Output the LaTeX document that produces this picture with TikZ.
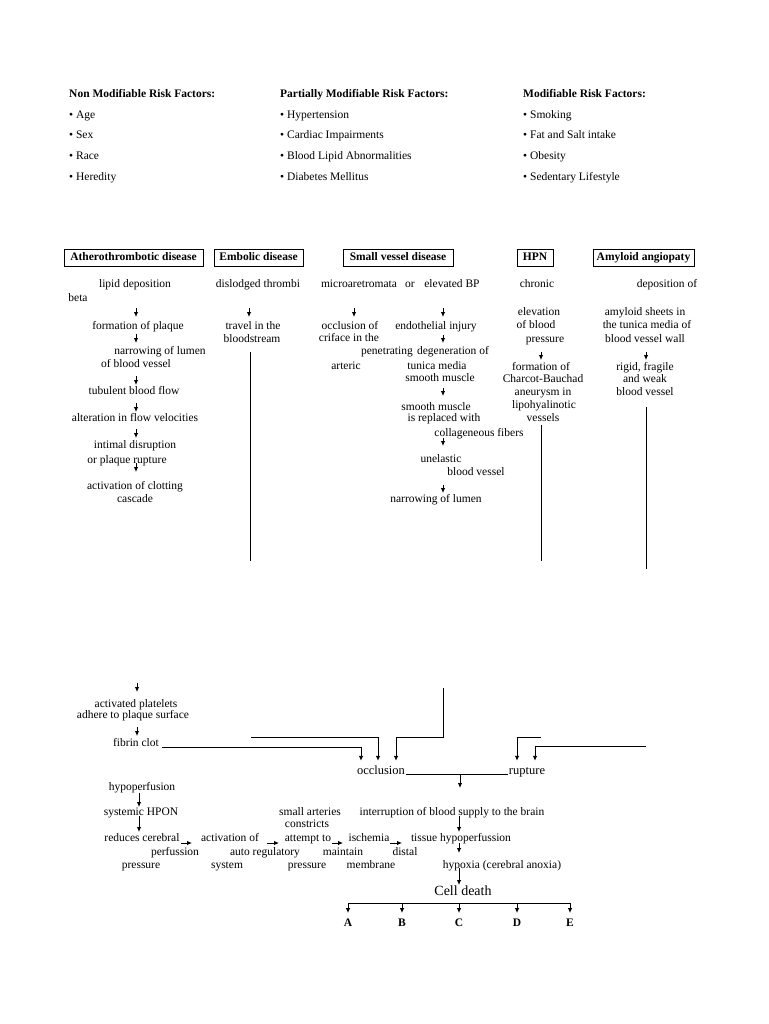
\documentclass[tikz,border=0pt]{standalone}
\usepackage{fontspec}
\setmainfont{Liberation Serif}
\usetikzlibrary{arrows.meta,calc}
\newcommand\fs{\fontsize{11.5}{13}\selectfont}
\tikzset{
  tx/.style={inner sep=0pt, text height=7.5pt, text depth=2pt, font=\fs, yshift=-2pt},
  hd/.style={tx, anchor=west, font=\fs\bfseries},
  bl/.style={tx, anchor=west},
  dbox/.style={draw, line width=0.8pt, inner sep=0pt, minimum height=17pt, text height=7.5pt, text depth=2pt, font=\fs\bfseries},
  big/.style={inner xsep=1pt, inner ysep=5pt, text height=8pt, text depth=2pt, font=\fontsize{12.5}{14}\selectfont},
  arr/.style={line width=0.9pt, -{Latex[length=5pt,width=4.5pt]}},
  ln/.style={line width=0.9pt},
  lab/.style={tx, font=\fs\bfseries},
}
\begin{document}
\begin{tikzpicture}[x=1pt,y=-1pt]
\useasboundingbox (0,0) rectangle (768,1024);
\fill[white] (0,0) rectangle (768,1024);

% ---------- risk factors ----------
\node[hd] (h1) at (69,93) {Non Modifiable Risk Factors:};
\node[bl] (h1a) at (69,114) {• Age};
\node[bl] (h1b) at (69,134) {• Sex};
\node[bl] (h1c) at (69,155) {• Race};
\node[bl] (h1d) at (69,176) {• Heredity};

\node[hd] (h2) at (280,93) {Partially Modifiable Risk Factors:};
\node[bl] (h2a) at (280,114) {• Hypertension};
\node[bl] (h2b) at (280,134) {• Cardiac Impairments};
\node[bl] (h2c) at (280,155) {• Blood Lipid Abnormalities};
\node[bl] (h2d) at (280,176) {• Diabetes Mellitus};

\node[hd] (h3) at (523,93) {Modifiable Risk Factors:};
\node[bl] (h3a) at (523,114) {• Smoking};
\node[bl] (h3b) at (523,134) {• Fat and Salt intake};
\node[bl] (h3c) at (523,155) {• Obesity};
\node[bl] (h3d) at (523,176) {• Sedentary Lifestyle};

% ---------- disease boxes ----------
\node[dbox, minimum width=139pt] (athero) at (133.5,258) {Atherothrombotic disease};
\node[dbox, minimum width=89pt] (embolic) at (258.5,258) {Embolic disease};
\node[dbox, minimum width=110pt] (small) at (398,258) {Small vessel disease};
\node[dbox, minimum width=36pt] (hpn) at (535,258) {HPN};
\node[dbox, minimum width=101pt] (amyloid) at (643.5,258) {Amyloid angiopaty};

% ---------- atherothrombotic column ----------
\node[tx] (lipid) at (135,283) {lipid deposition};
\node[tx] (beta) at (78,297) {beta};
\node[tx] (plaque) at (138,325) {formation of plaque};
\node[tx] (narrA) at (160,350) {narrowing of lumen};
\node[tx] (narrB) at (136,363) {of blood vessel};
\node[tx] (flow) at (134,390) {tubulent blood flow};
\node[tx] (alter) at (135,417) {alteration in flow velocities};
\node[tx] (intimA) at (135,444) {intimal disruption};
\node[tx] (intimB) at (127,459) {or plaque rupture};
\node[tx] (clotA) at (135,485) {activation of clotting};
\node[tx] (clotB) at (135,498) {cascade};

\coordinate (a1) at (136,308);
\coordinate (a2) at (136,334);
\coordinate (a3) at (136,376);
\coordinate (a4) at (136,403);
\coordinate (a5) at (136,429);
\coordinate (a6) at (136,463);
\draw[arr] (a1) -- ++(0,9);
\draw[arr] (a2) -- ++(0,9);
\draw[arr] (a3) -- ++(0,9);
\draw[arr] (a4) -- ++(0,9);
\draw[arr] (a5) -- ++(0,9);
\draw[arr] (a6) -- ++(0,9);

% ---------- embolic column ----------
\node[tx] (disl) at (258,283) {dislodged thrombi};
\node[tx] (travA) at (253,325) {travel in the};
\node[tx] (travB) at (252,338) {bloodstream};
\coordinate (e1) at (249,308);
\draw[arr] (e1) -- ++(0,9);
\coordinate (embTop) at (250,352);
\coordinate (embBot) at (250,561);
\draw[ln] (embTop) -- (embBot);

% ---------- small vessel column ----------
\node[tx] (micro) at (359,283) {microaretromata};
\node[tx] (orw) at (410,283) {or};
\node[tx] (elev) at (452,283) {elevated BP};
\node[tx] (occA) at (350,325) {occlusion of};
\node[tx] (occB) at (349,337) {criface in the};
\node[tx] (pen) at (387,350) {penetrating};
\node[tx] (art) at (346,365) {arteric};
\node[tx] (endo) at (436,325) {endothelial injury};
\node[tx] (degen) at (453,350) {degeneration of};
\node[tx] (tunica) at (437,365) {tunica media};
\node[tx] (smA) at (440,377) {smooth muscle};
\node[tx] (smB) at (436,406) {smooth muscle};
\node[tx] (repl) at (444,417) {is replaced with};
\node[tx] (coll) at (479,432) {collageneous fibers};
\node[tx] (unel) at (441,458) {unelastic};
\node[tx] (bvA) at (476,471) {blood vessel};
\node[tx] (narrS) at (436,498) {narrowing of lumen};

\coordinate (s1) at (354,308);
\coordinate (s2) at (443,308);
\coordinate (s3) at (443,335);
\coordinate (s4) at (443,388);
\coordinate (s5) at (443,438);
\coordinate (s6) at (443,485);
\draw[arr] (s1) -- ++(0,9);
\draw[arr] (s2) -- ++(0,9);
\draw[arr] (s3) -- ++(0,8);
\draw[arr] (s4) -- ++(0,8);
\draw[arr] (s5) -- ++(0,8);
\draw[arr] (s6) -- ++(0,8);

% ---------- HPN column ----------
\node[tx] (chron) at (537,283) {chronic};
\node[tx] (elevA) at (539,311) {elevation};
\node[tx] (elevB) at (536,324) {of blood};
\node[tx] (elevC) at (545,338) {pressure};
\node[tx] (formA) at (541,366) {formation of};
\node[tx] (formB) at (543,378) {Charcot-Bauchad};
\node[tx] (formC) at (543,391) {aneurysm in};
\node[tx] (formD) at (544,404) {lipohyalinotic};
\node[tx] (formE) at (543,417) {vessels};
\coordinate (h1s) at (541,352);
\draw[arr] (h1s) -- ++(0,8);
\coordinate (hpnTop) at (541,425);
\coordinate (hpnBot) at (541,561);
\draw[ln] (hpnTop) -- (hpnBot);

% ---------- amyloid column ----------
\node[tx] (depo) at (667,283) {deposition of};
\node[tx] (sheetA) at (645,311) {amyloid sheets in};
\node[tx] (sheetB) at (647,324) {the tunica media of};
\node[tx] (sheetC) at (645,338) {blood vessel wall};
\node[tx] (rigA) at (645,366) {rigid, fragile};
\node[tx] (rigB) at (645,378) {and weak};
\node[tx] (rigC) at (645,391) {blood vessel};
\coordinate (m1s) at (646,352);
\draw[arr] (m1s) -- ++(0,8);
\coordinate (amyTop) at (646,407);
\coordinate (amyBot) at (646,569);
\draw[ln] (amyTop) -- (amyBot);

% ---------- lower part ----------
\node[tx] (plateA) at (136,703) {activated platelets};
\node[tx] (plateB) at (133,714) {adhere to plaque surface};
\node[tx] (fibrin) at (136,742) {fibrin clot};
\coordinate (b1) at (137,683);
\coordinate (b2) at (137,727);
\draw[arr] (b1) -- ++(0,9);
\draw[arr] (b2) -- ++(0,9);

\node[big] (occl) at (381,771) {occlusion};
\node[big] (rup) at (527,771) {rupture};

\draw[arr] ([xshift=3pt,yshift=2pt]fibrin.south east) -| ([xshift=-20pt]occl.north);
\coordinate (emb2) at (251,737);
\draw[arr] (emb2) -| ([xshift=-3pt]occl.north);
\coordinate (sv2) at (443,688);
\draw[arr] (sv2) -- ++(0,49) -| ([xshift=15pt]occl.north);
\coordinate (hpn2) at (541,737);
\draw[arr] (hpn2) -| ([xshift=-10pt]rup.north);
\coordinate (amy2) at (646,746);
\draw[arr] (amy2) -| ([xshift=8pt]rup.north);

\draw[ln] (occl.base east) -- (rup.base west);
\coordinate (j1) at (460,774);
\draw[arr] (j1) -- ++(0,14);

\node[tx] (hypo) at (142,786) {hypoperfusion};
\node[tx] (syst) at (141,811) {systemic HPON};
\node[tx] (redA) at (142,837) {reduces cerebral};
\node[tx] (redB) at (175,851) {perfussion};
\node[tx] (redC) at (141,864) {pressure};
\coordinate (p1) at (139,793);
\coordinate (p2) at (139,816);
\draw[arr] (p1) -- ++(0,14);
\draw[arr] (p2) -- ++(0,16);

\node[tx] (actA) at (230,837) {activation of};
\node[tx] (actB) at (265,851) {auto regulatory};
\node[tx] (actC) at (227,864) {system};
\node[tx] (smlA) at (310,811) {small arteries};
\node[tx] (smlB) at (307,823) {constricts};
\node[tx] (smlC) at (308,837) {attempt to};
\node[tx] (smlD) at (343,851) {maintain};
\node[tx] (smlE) at (307,864) {pressure};
\node[tx] (iscA) at (369,837) {ischemia};
\node[tx] (iscB) at (405,851) {distal};
\node[tx] (iscC) at (371,864) {membrane};

\coordinate (q1) at (181,843);
\coordinate (q2) at (267,843);
\coordinate (q3) at (332,843);
\coordinate (q4) at (390,843);
\draw[arr] (q1) -- ++(11,0);
\draw[arr] (q2) -- ++(12,0);
\draw[arr] (q3) -- ++(11,0);
\draw[arr] (q4) -- ++(12,0);

\node[tx] (inter) at (452,811) {interruption of blood supply to the brain};
\node[tx] (tissue) at (461,837) {tissue hypoperfussion};
\node[tx] (hypox) at (502,864) {hypoxia (cerebral anoxia)};
\node[tx, font=\fontsize{14}{16}\selectfont, text height=9pt, text depth=2.5pt] (cell) at (463,890) {Cell death};
\coordinate (c1) at (459,816);
\coordinate (c2) at (459,843);
\coordinate (c3) at (459,868);
\draw[arr] (c1) -- ++(0,16);
\draw[arr] (c2) -- ++(0,10);
\draw[arr] (c3) -- ++(0,17);

\node[lab] (A) at (348,922) {A};
\node[lab] (B) at (402,922) {B};
\node[lab] (C) at (459,922) {C};
\node[lab] (D) at (517,922) {D};
\node[lab] (E) at (570,922) {E};
\coordinate (busL) at (348,903);
\coordinate (busR) at (570,903);
\draw[ln] (busL) -- (busR);
\foreach \n in {A,B,C,D,E}
  \draw[arr] (\n.north |- busL) -- ([yshift=6pt]\n.north);
\end{tikzpicture}
\end{document}
